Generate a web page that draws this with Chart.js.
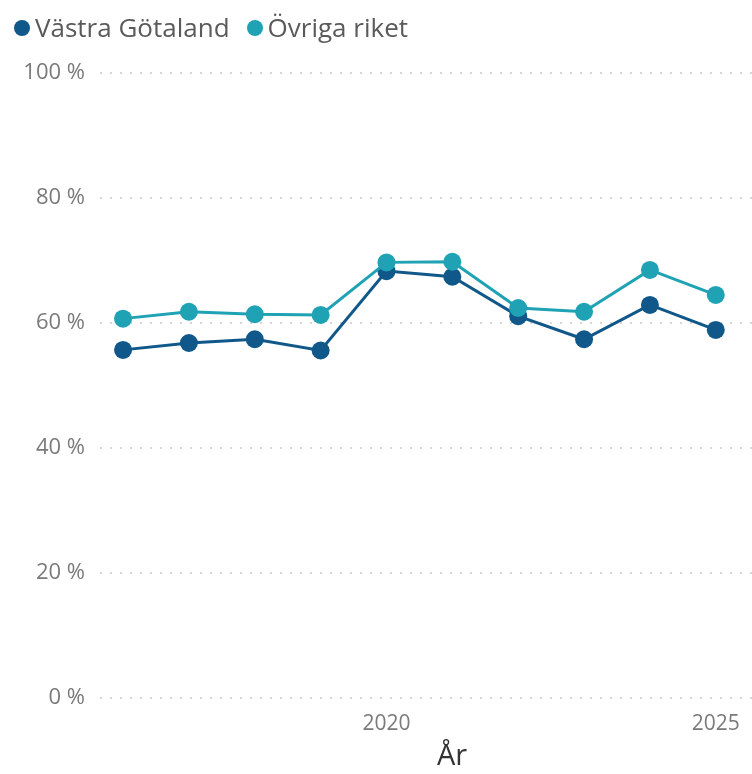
<!DOCTYPE html>
<html>
<head>
<meta charset="utf-8">
<script src="https://cdn.jsdelivr.net/npm/chart.js@4"></script>
<style>
  html, body { margin: 0; padding: 0; background: #fff; }
  #wrap { position: relative; width: 752px; height: 774px; }
  #legend { position: absolute; left: 14px; top: 12px; display: flex; gap: 17px;
            font-family: "Open Sans", sans-serif; font-size: 26px; line-height: 30px; color: #5a5a5a; }
  #legend .item { display: flex; align-items: center; }
  #legend .dot { width: 16px; height: 16px; border-radius: 50%; margin-right: 5px; margin-top: 1px; }
</style>
</head>
<body>
<div id="wrap">
  <canvas id="c" width="752" height="774"></canvas>
  <div id="legend"></div>
</div>
<script>
// Andel per år, procent
const years = [2016, 2017, 2018, 2019, 2020, 2021, 2022, 2023, 2024, 2025];
const vastraGotaland = [55.7, 56.8, 57.4, 55.6, 68.3, 67.4, 61.1, 57.4, 62.9, 58.9];
const ovrigaRiket = [60.7, 61.8, 61.4, 61.3, 69.7, 69.8, 62.4, 61.8, 68.5, 64.5];
const xTicks = [2020, 2025];
const yTicks = [0, 20, 40, 60, 80, 100];
const xTitle = 'År';

const seriesNames = ['Västra Götaland', 'Övriga riket'];
const seriesColors = ['#10578a', '#1fa2b4'];

const toPoints = vals => years.map((y, i) => ({ x: y, y: vals[i] }));

const datasets = [vastraGotaland, ovrigaRiket].map((vals, i) => ({
  label: seriesNames[i],
  data: toPoints(vals),
  borderColor: seriesColors[i],
  backgroundColor: seriesColors[i],
  borderWidth: 3,
  pointRadius: 9,
  pointHoverRadius: 9,
  pointBorderWidth: 0,
  tension: 0,
  order: i === 0 ? 2 : 1
}));

// legend
const legend = document.getElementById('legend');
seriesNames.forEach((n, i) => {
  const it = document.createElement('div');
  it.className = 'item';
  const d = document.createElement('span');
  d.className = 'dot';
  d.style.background = seriesColors[i];
  const t = document.createElement('span');
  t.textContent = n;
  it.appendChild(d); it.appendChild(t);
  legend.appendChild(it);
});

// x-axis title, sat slightly right of the plot centre
const axisTitle = {
  id: 'axisTitle',
  afterDraw(chart) {
    const ctx = chart.ctx;
    ctx.save();
    ctx.font = '29px "Open Sans"';
    ctx.fillStyle = '#333';
    ctx.textAlign = 'center';
    ctx.textBaseline = 'middle';
    ctx.fillText(xTitle, chart.chartArea.left + (chart.chartArea.right - chart.chartArea.left) / 2 + 26, 757);
    ctx.restore();
  }
};

const tickFont = { family: 'Open Sans', size: 21 };

new Chart(document.getElementById('c'), {
  type: 'line',
  data: { datasets },
  plugins: [axisTitle],
  options: {
    responsive: false,
    animation: false,
    layout: { autoPadding: false, padding: { top: 73, left: 0, right: 0, bottom: 0 } },
    plugins: { legend: { display: false }, tooltip: { enabled: false } },
    scales: {
      x: {
        type: 'linear',
        min: 2015.65,
        max: 2025.55,
        afterBuildTicks: s => { s.ticks = xTicks.map(v => ({ value: v })); },
        afterFit: s => { s.height = 76; s.paddingLeft = 0; s.paddingRight = 0; },
        grid: { display: false, drawTicks: false },
        border: { display: false },
        ticks: {
          callback: v => String(v),
          font: tickFont,
          color: '#7a7a7a',
          padding: 13,
          maxRotation: 0
        },
        title: { display: false }
      },
      y: {
        min: 0,
        max: 100,
        afterBuildTicks: s => { s.ticks = yTicks.map(v => ({ value: v })); },
        afterFit: s => { s.width = 100; },
        border: { display: false, dash: [2, 8] },
        grid: {
          color: '#d6d6d6',
          lineWidth: 2,
          drawTicks: false
        },
        ticks: {
          callback: v => v + ' %',
          font: { family: 'Open Sans', size: 22 },
          color: '#7a7a7a',
          padding: 15
        }
      }
    }
  }
});
</script>
</body>
</html>
